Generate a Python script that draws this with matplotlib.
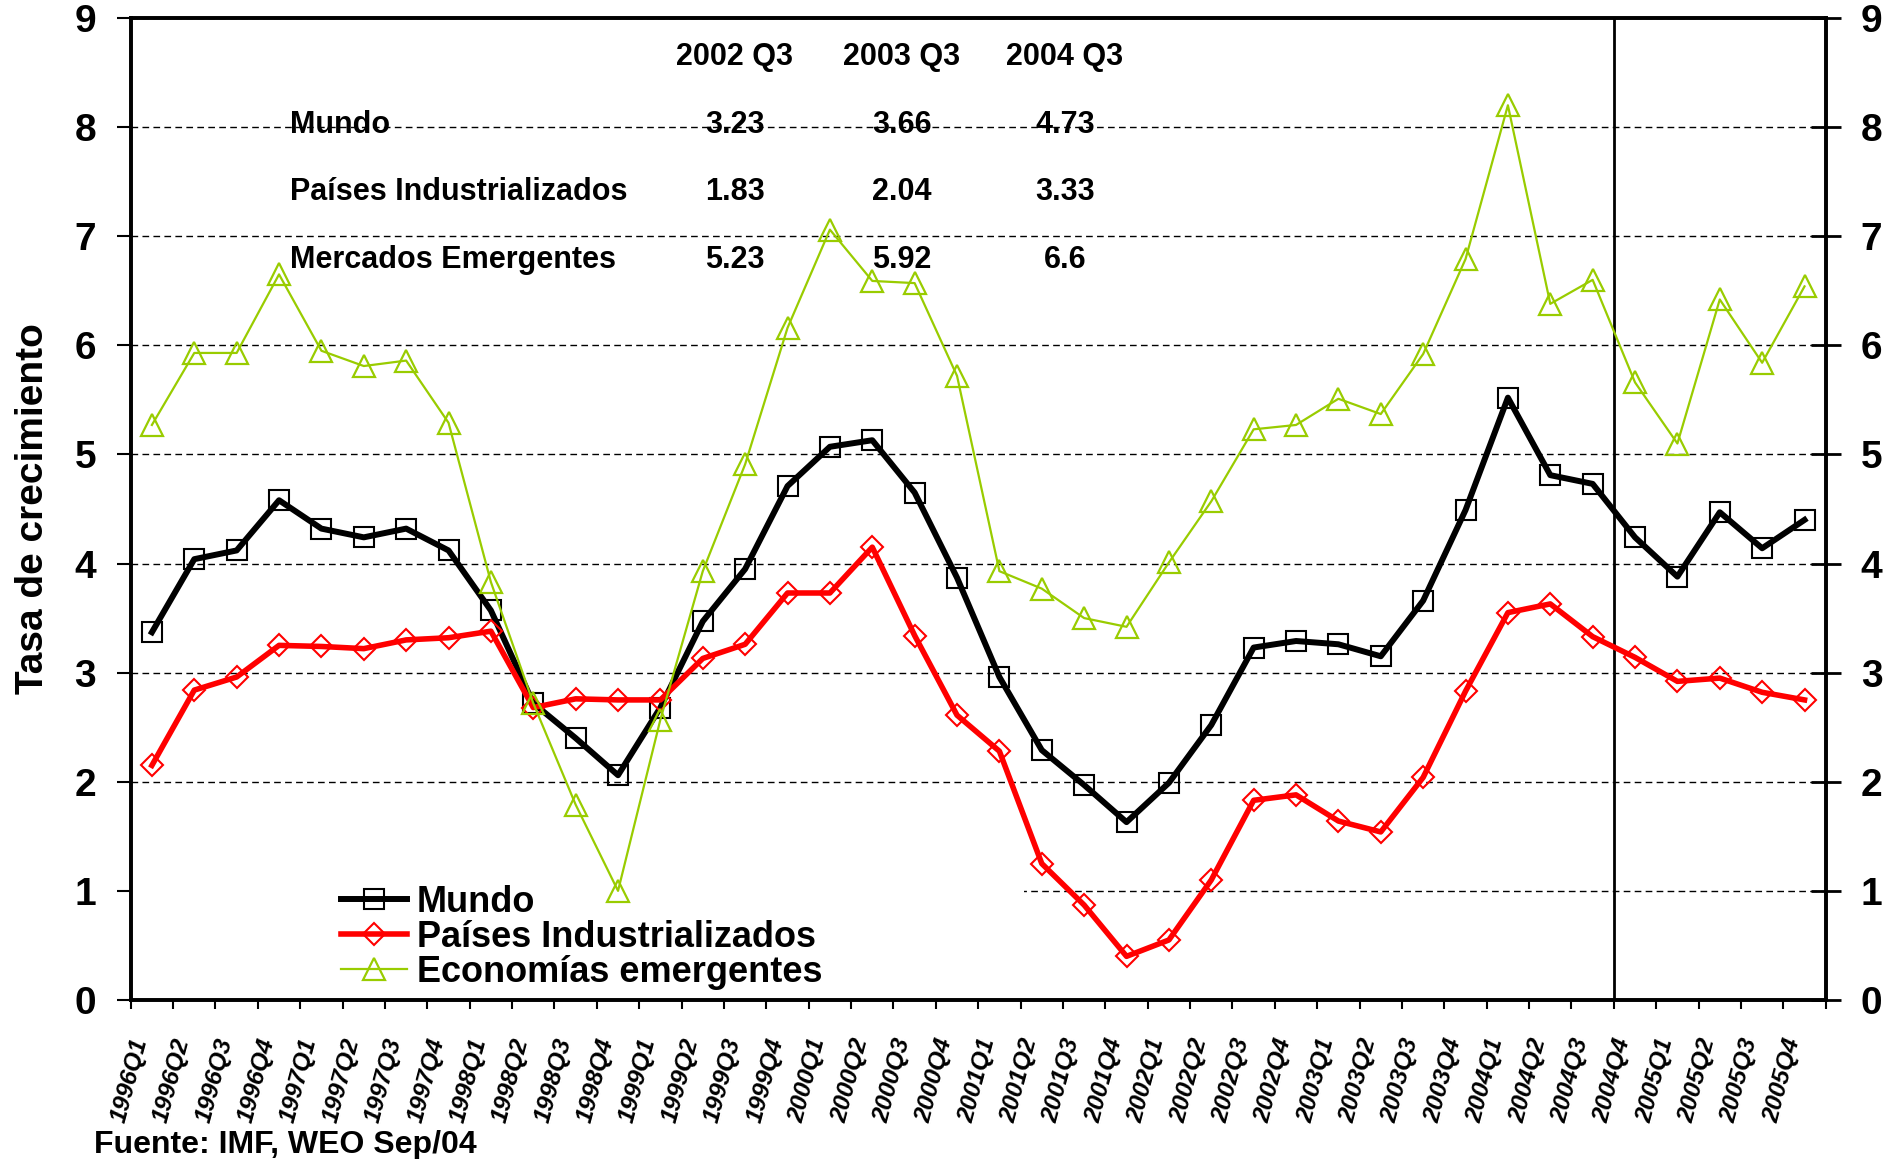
import matplotlib.pyplot as plt
from matplotlib.patches import Rectangle

plt.rcParams['font.family'] = ['Liberation Sans', 'DejaVu Sans']
plt.rcParams['font.weight'] = 'bold'

years = [1996, 1997, 1998, 1999, 2000, 2001, 2002, 2003, 2004, 2005]
quarters = [f"{y}Q{q}" for y in years for q in (1, 2, 3, 4)]

mundo = [3.37, 4.04, 4.12, 4.58, 4.32, 4.24, 4.32, 4.12, 3.57, 2.72,
         2.40, 2.06, 2.68, 3.47, 3.95, 4.71, 5.07, 5.13, 4.65, 3.87,
         2.96, 2.29, 1.97, 1.63, 1.99, 2.52, 3.23, 3.29, 3.26, 3.15,
         3.66, 4.49, 5.52, 4.81, 4.73, 4.24, 3.88, 4.47, 4.14, 4.40]
industrializados = [2.15, 2.84, 2.96, 3.25, 3.24, 3.22, 3.30, 3.32, 3.38, 2.68,
                    2.76, 2.75, 2.75, 3.13, 3.26, 3.73, 3.73, 4.15, 3.34, 2.61,
                    2.28, 1.25, 0.87, 0.40, 0.55, 1.10, 1.83, 1.88, 1.64, 1.54,
                    2.04, 2.83, 3.55, 3.63, 3.33, 3.14, 2.92, 2.95, 2.82, 2.75]
emergentes = [5.27, 5.93, 5.93, 6.65, 5.95, 5.81, 5.86, 5.29, 3.83, 2.72,
              1.79, 1.00, 2.57, 3.93, 4.91, 6.16, 7.06, 6.59, 6.57, 5.72,
              3.93, 3.77, 3.50, 3.42, 4.01, 4.57, 5.23, 5.27, 5.51, 5.37,
              5.92, 6.79, 8.20, 6.38, 6.60, 5.66, 5.10, 6.42, 5.84, 6.54]

series_names = ['Mundo', 'Países Industrializados', 'Economías emergentes']

table_cols = ['2002 Q3', '2003 Q3', '2004 Q3']
table_rows = ['Mundo', 'Países Industrializados', 'Mercados Emergentes']
table_vals = [['3.23', '3.66', '4.73'],
              ['1.83', '2.04', '3.33'],
              ['5.23', '5.92', '6.6']]

forecast_start = '2004Q4'
green = '#99CC00'

fig = plt.figure(figsize=(18.89, 11.59), dpi=100)
ax = fig.add_axes([0.0692, 0.1372, 0.8973, 0.8473])
x = list(range(len(quarters)))

ax.set_xlim(-0.5, len(quarters) - 0.5)
ax.set_ylim(0, 9)
ax.set_axisbelow(True)
ax.yaxis.grid(True, color='black', linestyle=(0, (4.8, 3.1)), linewidth=1.0)

# white box behind the legend hides the grid line at 1
ax.add_patch(Rectangle((0, 0.01), 0.527, 0.19, transform=ax.transAxes,
                       facecolor='white', edgecolor='none', zorder=1))

ax.plot(x, mundo, color='black', lw=4.3, marker='s', ms=14.4,
        mfc='none', mec='black', mew=1.5, label=series_names[0], zorder=3)
ax.plot(x, industrializados, color='red', lw=4.0, marker='D', ms=11,
        mfc='none', mec='red', mew=1.5, label=series_names[1], zorder=4)
ax.plot(x, emergentes, color=green, lw=1.6, marker='^', ms=16.5,
        mfc='none', mec=green, mew=1.6, label=series_names[2], zorder=5)

ax.axvline(quarters.index(forecast_start) - 0.5, color='black', lw=2, zorder=2)

# ticks between categories, labels at the centres
ax.set_xticks([i - 0.5 for i in range(len(quarters) + 1)])
ax.set_xticklabels([])
ax.set_xticks(x, minor=True)
ax.set_xticklabels(quarters, minor=True, rotation=75, ha='right',
                   fontsize=17.5, fontstyle='italic', fontweight='bold')
ax.tick_params(axis='x', which='major', direction='out', length=6.5, width=1.5)
ax.tick_params(axis='x', which='minor', length=0, pad=26)

ax.set_yticks(range(10))
ax.tick_params(axis='y', direction='out', length=10, width=1.5, pad=15,
               labelsize=28)

ax2 = ax.twinx()
ax2.set_ylim(0, 9)
ax2.set_yticks(range(10))
ax2.tick_params(axis='y', direction='inout', length=21, width=2, pad=14.8,
                labelsize=28)

for a in (ax, ax2):
    for sp in a.spines.values():
        sp.set_linewidth(2.6)

ax.set_ylabel('Tasa de crecimiento', fontsize=28, fontweight='bold')
ax.yaxis.set_label_coords(-0.0473, 0.5)

leg = ax.legend(loc='center left', bbox_to_anchor=(0.1243, 0.0636),
                frameon=False, fontsize=26, borderpad=0, borderaxespad=0,
                handlelength=1.82, handletextpad=0.26, labelspacing=0.0,
                numpoints=1)

# summary table in the upper left
row_y = [0.8826, 0.8147, 0.7454]
col_x = [0.3563, 0.4549, 0.5512]
for cx, name in zip(col_x, table_cols):
    ax.text(cx, 0.9521, name, transform=ax.transAxes, ha='center',
            va='baseline', fontsize=22, fontweight='bold')
for ry, name, vals in zip(row_y, table_rows, table_vals):
    ax.text(0.0938, ry, name, transform=ax.transAxes, ha='left',
            va='baseline', fontsize=22, fontweight='bold')
    for cx, v in zip(col_x, vals):
        ax.text(cx, ry, v, transform=ax.transAxes, ha='center',
                va='baseline', fontsize=22, fontweight='bold')

fig.text(94 / 1889, 6 / 1159, 'Fuente: IMF, WEO Sep/04', ha='left',
         va='baseline', fontsize=23, fontweight='bold')

fig.savefig('out.png', dpi=100)
